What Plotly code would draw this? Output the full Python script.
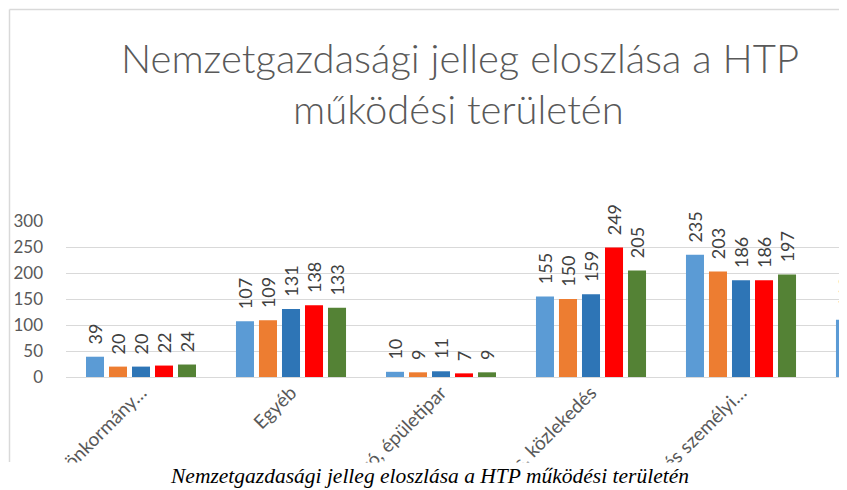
import plotly.graph_objects as go

# ---- data ----
categories = ["Helyi önkormány…", "Egyéb", "Feldolgozó, épületipar", "Szállítás, közlekedés",
              "Közösségi és személyi…", "Mezőgazdaság"]
series_names = ["1. sorozat", "2. sorozat", "3. sorozat", "4. sorozat", "5. sorozat"]
s1 = [39, 107, 10, 155, 235, 110]
s2 = [20, 109, 9, 150, 203, None]
s3 = [20, 131, 11, 159, 186, None]
s4 = [22, 138, 7, 249, 186, None]
s5 = [24, 133, 9, 205, 197, None]
series_values = [s1, s2, s3, s4, s5]
colors = ["#5B9BD5", "#ED7D31", "#2E75B6", "#FF0000", "#548235"]
y_ticks = [0, 50, 100, 150, 200, 250, 300]

title_line1 = "Nemzetgazdasági jelleg eloszlása a HTP"
title_line2 = "működési területén"
caption_text = "Nemzetgazdasági jelleg eloszlása a HTP működési területén"

FONT = "Lato, 'Open Sans', sans-serif"
OFF = 8  # page body margin
W, H = 847, 490
ML, MR = 66 - OFF, 0
MT = 221 - OFF
MB = H - (377 - OFF)
PW = W - ML - MR
PH = H - MT - MB

fig = go.Figure()
for name, vals, col in zip(series_names, series_values, colors):
    fig.add_trace(go.Bar(
        x=categories, y=vals, name=name,
        marker=dict(color=col, line=dict(width=0)),
        text=[("\u00a0\u00a0" + str(v)) if v is not None else "" for v in vals],
        texttemplate="%{text}",
        textposition="outside", textangle=-90,
        textfont=dict(family=FONT, size=18, color="#404040"),
        constraintext="none", cliponaxis=False,
    ))

def px_x(sx):
    return (sx - OFF - ML) / PW

def px_y(sy):
    return (H - MB - (sy - OFF)) / PH

title_font = dict(family=FONT, size=40, color="#595959", weight=300)

fig.update_layout(
    width=W, height=H,
    margin=dict(l=ML, r=MR, t=MT, b=MB, pad=0, autoexpand=False),
    paper_bgcolor="white", plot_bgcolor="white",
    barmode="group", bargap=0.233, bargroupgap=0.217,
    showlegend=False,
    font=dict(family=FONT, color="#595959"),
    xaxis=dict(range=[-0.5, -0.5 + PW / 150.0], tickangle=-45, automargin=False,
               tickfont=dict(family=FONT, size=19, color="#595959"),
               showgrid=False, showline=False, zeroline=False, ticks=""),
    yaxis=dict(range=[0, 300], tickvals=y_ticks, showgrid=True, gridcolor="#D9D9D9",
               gridwidth=1, zeroline=True, zerolinecolor="#D9D9D9", zerolinewidth=1,
               showline=False, ticks="", ticklabelstandoff=22, automargin=False,
               tickfont=dict(family=FONT, size=17, color="#595959")),
    shapes=[
        dict(type="rect", xref="paper", yref="paper", x0=px_x(-20), x1=px_x(W + 20),
             y0=px_y(462.5), y1=px_y(H + 20), fillcolor="white", line=dict(width=0),
             layer="above"),
        dict(type="line", xref="paper", yref="paper", x0=px_x(9.5), x1=px_x(9.5),
             y0=px_y(9.5), y1=px_y(462), line=dict(color="#D9D9D9", width=1.5),
             layer="above"),
        dict(type="line", xref="paper", yref="paper", x0=px_x(9.5), x1=px_x(W + 20),
             y0=px_y(9.5), y1=px_y(9.5), line=dict(color="#D9D9D9", width=1.5),
             layer="above"),
    ],
    annotations=[
        dict(text=title_line1, xref="paper", yref="paper",
             x=px_x(460), y=px_y(58), xanchor="center", yanchor="middle",
             showarrow=False, font=title_font),
        dict(text=title_line2, xref="paper", yref="paper",
             x=px_x(458.5), y=px_y(109), xanchor="center", yanchor="middle",
             showarrow=False, font=title_font),
        dict(text="<i>" + caption_text + "</i>", xref="paper", yref="paper",
             x=px_x(429), y=px_y(476), xanchor="center", yanchor="middle",
             showarrow=False,
             font=dict(family="'Liberation Serif', 'Times New Roman', serif", size=21.5,
                       color="#000000")),
    ],
)

fig.write_html("out.html")
